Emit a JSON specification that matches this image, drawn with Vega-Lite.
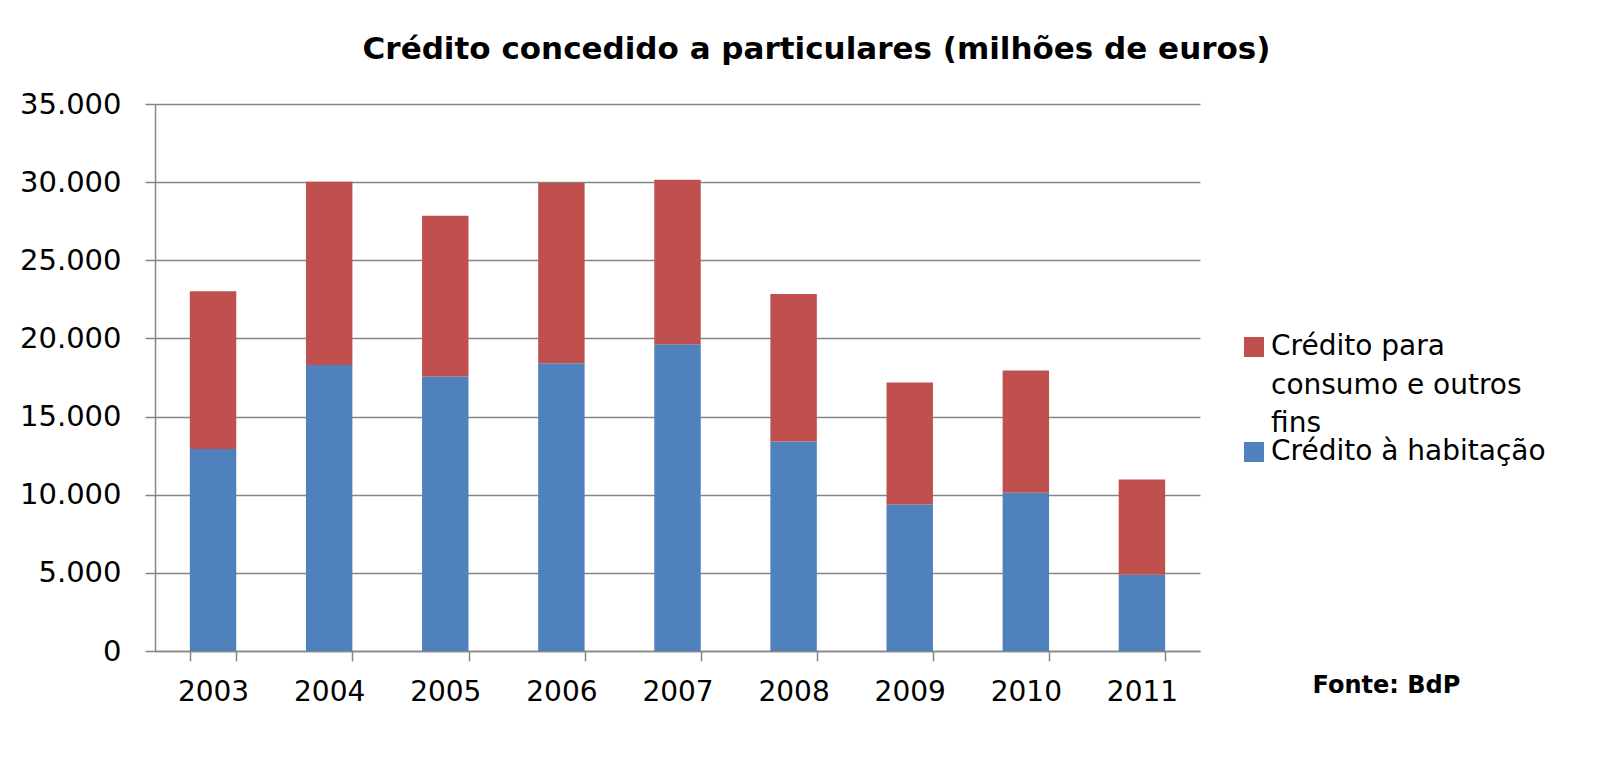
{
  "$schema": "https://vega.github.io/schema/vega-lite/v6.json",
  "autosize": {"type": "none"},
  "padding": {"left": 155, "top": 104, "right": 412, "bottom": 127},
  "width": 1045,
  "height": 547,
  "background": "white",
  "config": {
    "locale": {"number": {"decimal": ",", "thousands": ".", "grouping": [3], "currency": ["", " €"]}},
    "view": {"stroke": null},
    "font": "DejaVu Sans",
    "style": {"guide-label": {"lineHeight": 38.5}}
  },
  "title": {
    "text": "Crédito concedido a particulares (milhões de euros)",
    "font": "DejaVu Sans",
    "fontSize": 31,
    "fontWeight": "bold",
    "color": "#000000",
    "anchor": "middle",
    "frame": "group",
    "dx": 139,
    "baseline": "alphabetic",
    "offset": 0
  },
  "data": {
    "values": [
      {"ano": "2003", "serie": "Crédito à habitação", "valor": 12920},
      {"ano": "2003", "serie": "Crédito para consumo e outros fins", "valor": 10100},
      {"ano": "2004", "serie": "Crédito à habitação", "valor": 18300},
      {"ano": "2004", "serie": "Crédito para consumo e outros fins", "valor": 11730},
      {"ano": "2005", "serie": "Crédito à habitação", "valor": 17560},
      {"ano": "2005", "serie": "Crédito para consumo e outros fins", "valor": 10290},
      {"ano": "2006", "serie": "Crédito à habitação", "valor": 18410},
      {"ano": "2006", "serie": "Crédito para consumo e outros fins", "valor": 11530},
      {"ano": "2007", "serie": "Crédito à habitação", "valor": 19620},
      {"ano": "2007", "serie": "Crédito para consumo e outros fins", "valor": 10530},
      {"ano": "2008", "serie": "Crédito à habitação", "valor": 13400},
      {"ano": "2008", "serie": "Crédito para consumo e outros fins", "valor": 9440},
      {"ano": "2009", "serie": "Crédito à habitação", "valor": 9370},
      {"ano": "2009", "serie": "Crédito para consumo e outros fins", "valor": 7810},
      {"ano": "2010", "serie": "Crédito à habitação", "valor": 10130},
      {"ano": "2010", "serie": "Crédito para consumo e outros fins", "valor": 7810},
      {"ano": "2011", "serie": "Crédito à habitação", "valor": 4880},
      {"ano": "2011", "serie": "Crédito para consumo e outros fins", "valor": 6100}
    ]
  },
  "mark": {"type": "bar", "stroke": null},
  "encoding": {
    "x": {
      "field": "ano",
      "type": "ordinal",
      "scale": {"paddingInner": 0.6, "paddingOuter": 0.3},
      "axis": {
        "title": "Fonte: BdP",
        "titleFont": "DejaVu Sans",
        "titleFontSize": 24,
        "titleFontWeight": "bold",
        "titleColor": "#000000",
        "titleX": 1157,
        "titleY": 41,
        "titleAlign": "left",
        "titleBaseline": "alphabetic",
        "labelAngle": 0,
        "labelFont": "DejaVu Sans",
        "labelFontSize": 28,
        "labelColor": "#000000",
        "labelBaseline": "alphabetic",
        "labelPadding": 39,
        "tickBand": "extent",
        "tickSize": 10,
        "tickColor": "#868686",
        "domainColor": "#868686",
        "domainWidth": 1.5,
        "tickWidth": 1.5,
        "grid": false
      }
    },
    "y": {
      "field": "valor",
      "type": "quantitative",
      "stack": "zero",
      "scale": {"domain": [0, 35000], "nice": false},
      "axis": {
        "title": null,
        "values": [0, 5000, 10000, 15000, 20000, 25000, 30000, 35000],
        "format": ",d",
        "labelFont": "DejaVu Sans",
        "labelFontSize": 29,
        "labelColor": "#000000",
        "labelPadding": 24,
        "tickSize": 10,
        "tickColor": "#868686",
        "domainColor": "#868686",
        "domainWidth": 1.5,
        "tickWidth": 1.5,
        "grid": true,
        "gridColor": "#868686",
        "gridWidth": 1.5
      }
    },
    "color": {
      "field": "serie",
      "type": "nominal",
      "scale": {
        "domain": ["Crédito para consumo e outros fins", "Crédito à habitação"],
        "range": ["#C0504D", "#4F81BD"]
      },
      "legend": {
        "title": null,
        "orient": "none",
        "legendX": 1085,
        "legendY": 237,
        "padding": 0,
        "rowPadding": 0,
        "labelFont": "DejaVu Sans",
        "labelFontSize": 28,
        "labelColor": "#000000",
        "labelLimit": 500,
        "labelBaseline": "alphabetic",
        "labelOffset": 3,
        "labelExpr": "datum.label == 'Crédito para consumo e outros fins' ? ['Crédito para', 'consumo e outros', 'fins'] : datum.label",
        "symbolType": "M-1,-1.8H1V0.2H-1Z",
        "symbolSize": 400,
        "symbolStrokeWidth": 0,
        "encode": {"labels": {"update": {"lineHeight": {"value": 38.5}}}}
      }
    },
    "order": {"field": "serie", "sort": "descending"}
  }
}
